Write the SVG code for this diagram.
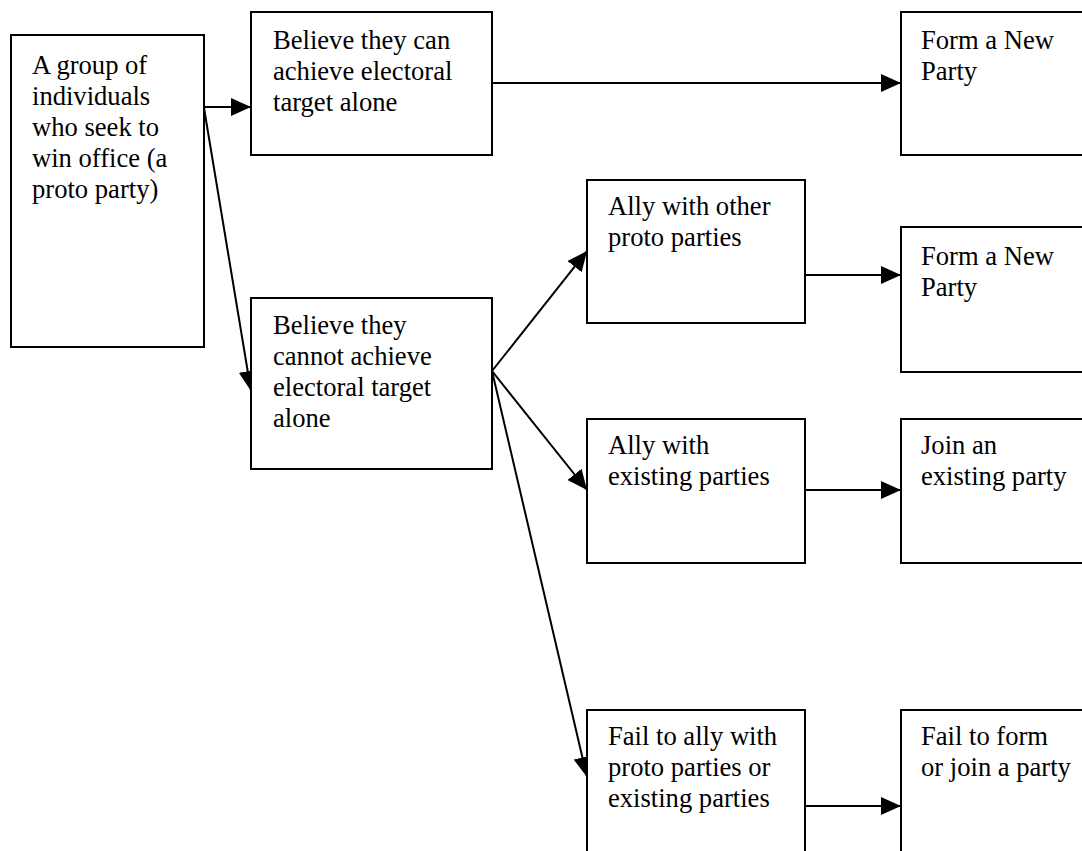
<svg xmlns="http://www.w3.org/2000/svg" width="1082" height="851" viewBox="0 0 1082 851">
  <style>
    .box { fill: #ffffff; stroke: #000000; stroke-width: 2; }
    .lbl { font-family: "Liberation Serif", "Times New Roman", serif; font-size: 26.6px; fill: #000000; }
    .edge { stroke: #000000; stroke-width: 2; fill: none; marker-end: url(#head); }
  </style>
  <defs>
    <marker id="head" markerUnits="userSpaceOnUse" markerWidth="20" markerHeight="18" refX="20" refY="9" orient="auto">
      <path d="M0,0 L20,9 L0,18 Z" fill="#000000"/>
    </marker>
  </defs>

  <rect width="1082" height="851" fill="#ffffff"/>

  <!-- connectors -->
  <g id="connectors">
    <line class="edge" x1="204" y1="107" x2="251" y2="107"/>
    <line class="edge" x1="204" y1="108" x2="251" y2="391"/>
    <line class="edge" x1="492" y1="83" x2="901" y2="83"/>
    <line class="edge" x1="492" y1="371" x2="587" y2="251"/>
    <line class="edge" x1="492" y1="371" x2="587" y2="490"/>
    <line class="edge" x1="492" y1="371" x2="587" y2="777"/>
    <line class="edge" x1="805" y1="275" x2="901" y2="275"/>
    <line class="edge" x1="805" y1="490" x2="901" y2="490"/>
    <line class="edge" x1="805" y1="806" x2="901" y2="806"/>
  </g>

  <!-- nodes -->
  <g id="proto-party">
    <rect class="box" x="11" y="35" width="193" height="312"/>
    <text class="lbl"><tspan x="32" y="74">A group of</tspan><tspan x="32" y="105">individuals</tspan><tspan x="32" y="136">who seek to</tspan><tspan x="32" y="167">win office (a</tspan><tspan x="32" y="198">proto party)</tspan></text>
  </g>

  <g id="can-alone">
    <rect class="box" x="251" y="12" width="241" height="143"/>
    <text class="lbl"><tspan x="273" y="49">Believe they can</tspan><tspan x="273" y="80">achieve electoral</tspan><tspan x="273" y="111">target alone</tspan></text>
  </g>

  <g id="new-party-1">
    <rect class="box" x="901" y="12" width="300" height="143"/>
    <text class="lbl"><tspan x="921" y="49">Form a New</tspan><tspan x="921" y="80">Party</tspan></text>
  </g>

  <g id="cannot-alone">
    <rect class="box" x="251" y="298" width="241" height="171"/>
    <text class="lbl"><tspan x="273" y="334">Believe they</tspan><tspan x="273" y="365">cannot achieve</tspan><tspan x="273" y="396">electoral target</tspan><tspan x="273" y="427">alone</tspan></text>
  </g>

  <g id="ally-proto">
    <rect class="box" x="587" y="180" width="218" height="143"/>
    <text class="lbl"><tspan x="608" y="215">Ally with other</tspan><tspan x="608" y="246">proto parties</tspan></text>
  </g>

  <g id="new-party-2">
    <rect class="box" x="901" y="227" width="300" height="145"/>
    <text class="lbl"><tspan x="921" y="265">Form a New</tspan><tspan x="921" y="296">Party</tspan></text>
  </g>

  <g id="ally-existing">
    <rect class="box" x="587" y="419" width="218" height="144"/>
    <text class="lbl"><tspan x="608" y="454">Ally with</tspan><tspan x="608" y="485">existing parties</tspan></text>
  </g>

  <g id="join-existing">
    <rect class="box" x="901" y="419" width="300" height="144"/>
    <text class="lbl"><tspan x="921" y="454">Join an</tspan><tspan x="921" y="485">existing party</tspan></text>
  </g>

  <g id="fail-ally">
    <rect class="box" x="587" y="710" width="218" height="200"/>
    <text class="lbl"><tspan x="608" y="745">Fail to ally with</tspan><tspan x="608" y="776">proto parties or</tspan><tspan x="608" y="807">existing parties</tspan></text>
  </g>

  <g id="fail-form">
    <rect class="box" x="901" y="710" width="300" height="200"/>
    <text class="lbl"><tspan x="921" y="745">Fail to form</tspan><tspan x="921" y="776">or join a party</tspan></text>
  </g>
</svg>
